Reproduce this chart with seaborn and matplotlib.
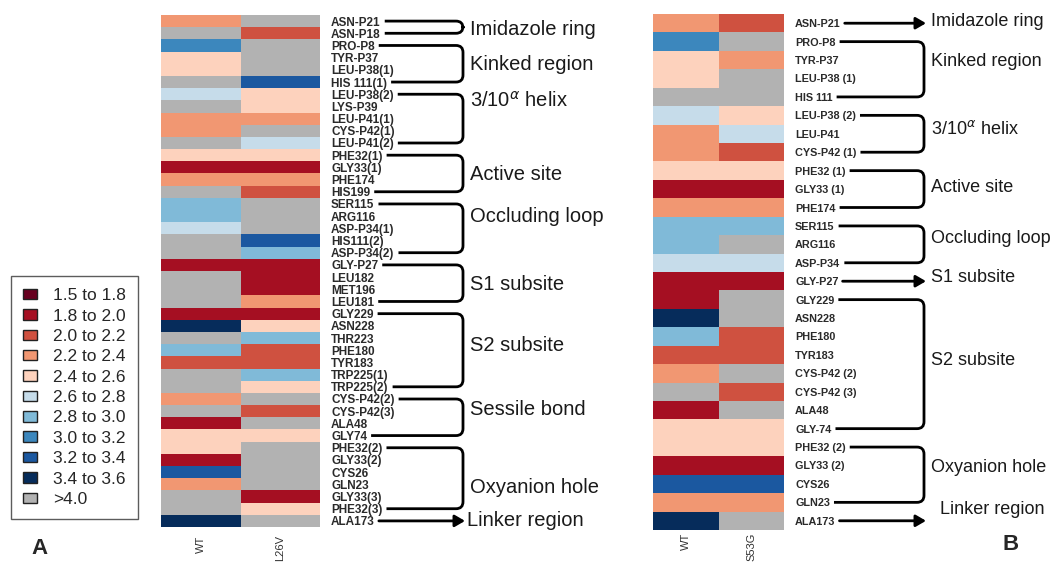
import numpy as np
import pandas as pd
import matplotlib
matplotlib.use("Agg")
import matplotlib.pyplot as plt
import seaborn as sns
from matplotlib.colors import ListedColormap, BoundaryNorm
from matplotlib.patches import Patch, FancyArrowPatch, PathPatch
from matplotlib.path import Path

# ---------------- data ----------------
bin_labels = ["1.5 to 1.8", "1.8 to 2.0", "2.0 to 2.2", "2.2 to 2.4", "2.4 to 2.6",
              "2.6 to 2.8", "2.8 to 3.0", "3.0 to 3.2", "3.2 to 3.4", "3.4 to 3.6", ">4.0"]
bin_edges = [1.5, 1.8, 2.0, 2.2, 2.4, 2.6, 2.8, 3.0, 3.2, 3.4, 3.6, 5.0]
bin_colors = ["#67001f", "#a50f22", "#cf5140", "#f19772", "#fdd2bd",
              "#c6dcea", "#80bad8", "#3c87bd", "#1b58a0", "#062c5b", "#b2b2b2"]

left_rows = ["ASN-P21", "ASN-P18", "PRO-P8", "TYR-P37", "LEU-P38(1)", "HIS 111(1)",
             "LEU-P38(2)", "LYS-P39", "LEU-P41(1)", "CYS-P42(1)", "LEU-P41(2)",
             "PHE32(1)", "GLY33(1)", "PHE174", "HIS199", "SER115", "ARG116",
             "ASP-P34(1)", "HIS111(2)", "ASP-P34(2)", "GLY-P27", "LEU182", "MET196",
             "LEU181", "GLY229", "ASN228", "THR223", "PHE180", "TYR183", "TRP225(1)",
             "TRP225(2)", "CYS-P42(2)", "CYS-P42(3)", "ALA48", "GLY74", "PHE32(2)",
             "GLY33(2)", "CYS26", "GLN23", "GLY33(3)", "PHE32(3)", "ALA173"]
left_cols = ["WT", "L26V"]
left_wt = [2.3, 4.5, 3.1, 2.5, 2.5, 4.5, 2.7, 4.5, 2.3, 2.3, 4.5, 2.5, 1.9, 2.3, 4.5,
           2.9, 2.9, 2.7, 4.5, 4.5, 1.9, 4.5, 4.5, 4.5, 1.9, 3.5, 4.5, 2.9, 2.1, 4.5,
           4.5, 2.3, 4.5, 1.9, 2.5, 2.5, 1.9, 3.3, 2.3, 4.5, 4.5, 3.5]
left_mut = [4.5, 2.1, 4.5, 4.5, 4.5, 3.3, 2.5, 2.5, 2.3, 4.5, 2.7, 2.5, 1.9, 2.3, 2.1,
            4.5, 4.5, 4.5, 3.3, 2.9, 1.9, 1.9, 1.9, 2.3, 1.9, 2.5, 2.9, 2.1, 2.1, 2.9,
            2.5, 4.5, 2.1, 4.5, 2.5, 4.5, 4.5, 4.5, 4.5, 1.9, 2.5, 4.5]

right_rows = ["ASN-P21", "PRO-P8", "TYR-P37", "LEU-P38 (1)", "HIS 111", "LEU-P38 (2)",
              "LEU-P41", "CYS-P42 (1)", "PHE32 (1)", "GLY33 (1)", "PHE174", "SER115",
              "ARG116", "ASP-P34", "GLY-P27", "GLY229", "ASN228", "PHE180", "TYR183",
              "CYS-P42 (2)", "CYS-P42 (3)", "ALA48", "GLY-74", "PHE32 (2)", "GLY33 (2)",
              "CYS26", "GLN23", "ALA173"]
right_cols = ["WT", "S53G"]
right_wt = [2.3, 3.1, 2.5, 2.5, 4.5, 2.7, 2.3, 2.3, 2.5, 1.9, 2.3, 2.9, 2.9, 2.7,
            1.9, 1.9, 3.5, 2.9, 2.1, 2.3, 4.5, 1.9, 2.5, 2.5, 1.9, 3.3, 2.3, 3.5]
right_mut = [2.1, 4.5, 2.3, 4.5, 4.5, 2.5, 2.7, 2.1, 2.5, 1.9, 2.3, 2.9, 4.5, 2.7,
             1.9, 4.5, 4.5, 2.1, 2.1, 4.5, 2.1, 4.5, 2.5, 2.5, 1.9, 3.3, 2.3, 4.5]

# groups: (label, first row, last row, label anchor row, kind)
helix = "3/10$^{\\alpha}$ helix"
left_groups = [("Imidazole ring", 0, 1, 0.7, "bracket"),
               ("Kinked region", 2, 5, 3.6, "bracket"),
               (helix, 6, 10, 6.5, "bracket"),
               ("Active site", 11, 14, 12.6, "bracket"),
               ("Occluding loop", 15, 19, 16.0, "bracket"),
               ("S1 subsite", 20, 23, 21.6, "bracket"),
               ("S2 subsite", 24, 30, 26.6, "bracket"),
               ("Sessile bond", 31, 34, 31.9, "bracket"),
               ("Oxyanion hole", 35, 40, 38.3, "bracket"),
               ("Linker region", 41, 41, 41.0, "arrow")]
right_groups = [("Imidazole ring", 0, 0, -0.1, "arrow"),
                ("Kinked region", 1, 4, 2.1, "bracket"),
                (helix, 5, 7, 5.75, "bracket"),
                ("Active site", 8, 10, 8.9, "bracket"),
                ("Occluding loop", 11, 13, 11.7, "bracket"),
                ("S1 subsite", 14, 14, 13.8, "arrow"),
                ("S2 subsite", 15, 22, 18.3, "bracket"),
                ("Oxyanion hole", 23, 26, 24.1, "bracket"),
                ("Linker region", 27, 27, 26.4, "arrow")]

# ---------------- style ----------------
sns.set_style("white")
plt.rcParams["font.family"] = ["Liberation Sans", "DejaVu Sans"]

W, H = 1052, 563
fig = plt.figure(figsize=(W / 100, H / 100), dpi=100)

cmap = ListedColormap(bin_colors)
norm = BoundaryNorm(bin_edges, cmap.N)


def draw_heat(rect, rows, cols, a, b, fs, xpad):
    ax = fig.add_axes(rect)
    df = pd.DataFrame({cols[0]: a, cols[1]: b}, index=rows)
    sns.heatmap(df, ax=ax, cmap=cmap, norm=norm, cbar=False, linewidths=0,
                xticklabels=True, yticklabels=True)
    ax.yaxis.tick_right()
    ax.tick_params(axis="y", length=0, pad=8, labelsize=fs, labelcolor="#2a2a2a",
                   rotation=0)
    ax.tick_params(axis="x", length=0, pad=xpad, labelsize=8, labelcolor="#333333",
                   rotation=90)
    for t in ax.get_yticklabels():
        t.set_fontweight("bold")
    for t in ax.get_xticklabels():
        t.set_va("top")
    return ax


axL = draw_heat([161 / W, 1 - 527 / H, 159 / W, 512 / H], left_rows, left_cols,
                left_wt, left_mut, 8.5, 6)
axR = draw_heat([653 / W, 1 - 530 / H, 131 / W, 516 / H], right_rows, right_cols,
                right_wt, right_mut, 7.8, 2)

fig.canvas.draw()
renderer = fig.canvas.get_renderer()


def annotate_groups(ax, groups, xb, xtext, linker_dx, fs):
    labels = ax.get_yticklabels()
    ends = [lab.get_window_extent(renderer).x1 + 4 for lab in labels]

    def rowy(r):
        return ax.transData.transform((0, r + 0.5))[1]

    for name, r0, r1, ranchor, kind in groups:
        ty = rowy(ranchor)
        if kind == "bracket":
            y0, y1 = rowy(r0), rowy(r1)
            rr = 7
            verts = [(ends[r0], y0), (xb - rr, y0), (xb, y0), (xb, y0 - rr),
                     (xb, y1 + rr), (xb, y1), (xb - rr, y1), (ends[r1], y1)]
            codes = [Path.MOVETO, Path.LINETO, Path.CURVE3, Path.CURVE3,
                     Path.LINETO, Path.CURVE3, Path.CURVE3, Path.LINETO]
            verts = [(x / W, y / H) for x, y in verts]
            fig.add_artist(PathPatch(Path(verts, codes), facecolor="none",
                                     edgecolor="black", lw=2.0,
                                     transform=fig.transFigure))
            fig.text(xtext / W, ty / H, name, fontsize=fs, va="center", ha="left",
                     color="#1a1a1a")
        else:
            y0 = rowy(r0)
            tx = xtext + linker_dx if name == "Linker region" else xtext
            arr = FancyArrowPatch((ends[r0] / W, y0 / H), ((xb + 2) / W, y0 / H),
                                  arrowstyle="-|>,head_length=6,head_width=3.5",
                                  lw=2.0, color="black",
                                  transform=fig.transFigure, shrinkA=0, shrinkB=0)
            fig.add_artist(arr)
            fig.text(tx / W, ty / H, name, fontsize=fs, va="center", ha="left",
                     color="#1a1a1a")


annotate_groups(axL, left_groups, 463, 470, -3, 14.5)
annotate_groups(axR, right_groups, 924, 931, 9, 13)

# legend
handles = [Patch(facecolor=c, edgecolor="#222222", lw=1) for c in bin_colors]
leg = fig.legend(handles, bin_labels, loc="upper left",
                 bbox_to_anchor=(11 / W, 1 - 276 / H), fontsize=12.5,
                 frameon=True, fancybox=False, edgecolor="#333333",
                 handlelength=0.8, handleheight=0.55, handletextpad=0.9,
                 labelspacing=0.31, borderpad=0.7, borderaxespad=0)
leg.get_frame().set_linewidth(1.0)

fig.text(40 / W, 1 - 549 / H, "A", fontsize=16, fontweight="bold", ha="center",
         va="center")
fig.text(1011 / W, 1 - 545 / H, "B", fontsize=16, fontweight="bold", ha="center",
         va="center")

fig.savefig("out.png", dpi=100)
